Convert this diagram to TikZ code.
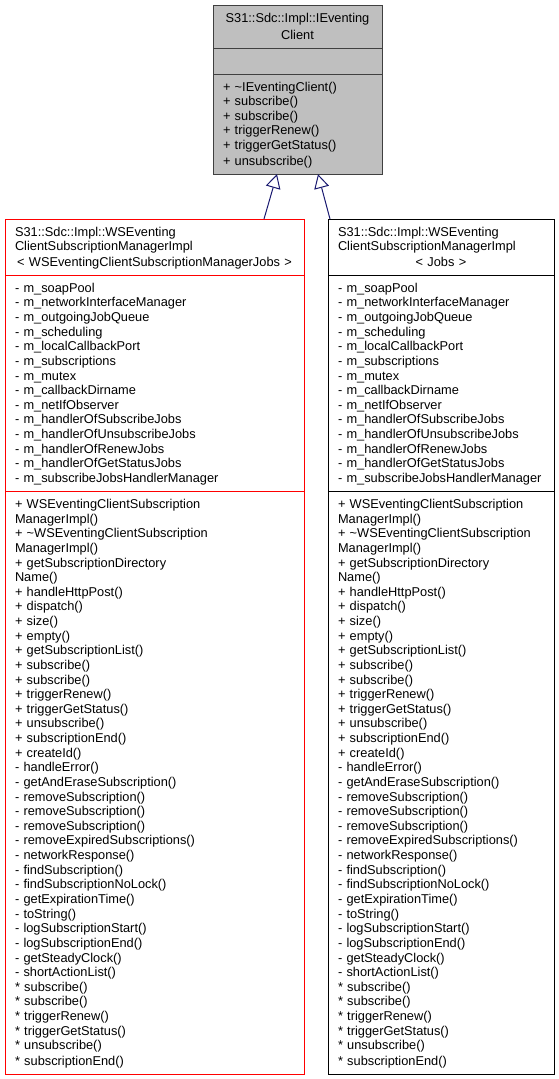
\documentclass[tikz,border=0pt]{standalone}
\usepackage{fontspec}
\setmainfont{Liberation Sans}
\usetikzlibrary{positioning,arrows.meta}
\definecolor{grey75}{HTML}{BFBFBF}
\definecolor{ifaceedge}{HTML}{404040}
\definecolor{midnightblue}{HTML}{191970}
\newcommand{\umlstrut}{\rule[-4pt]{0pt}{16pt}}
\newcommand{\mgrattrs}{- m\_soapPool\\- m\_networkInterfaceManager\\- m\_outgoingJobQueue\\- m\_scheduling\\- m\_localCallbackPort\\- m\_subscriptions\\- m\_mutex\\- m\_callbackDirname\\- m\_netIfObserver\\- m\_handlerOfSubscribeJobs\\- m\_handlerOfUnsubscribeJobs\\- m\_handlerOfRenewJobs\\- m\_handlerOfGetStatusJobs\\- m\_subscribeJobsHandlerManager}
\newcommand{\mgrops}{+ WSEventingClientSubscription\\ManagerImpl()\\+ \textasciitilde WSEventingClientSubscription\\ManagerImpl()\\+ getSubscriptionDirectory\\Name()\\+ handleHttpPost()\\+ dispatch()\\+ size()\\+ empty()\\+ getSubscriptionList()\\+ subscribe()\\+ subscribe()\\+ triggerRenew()\\+ triggerGetStatus()\\+ unsubscribe()\\+ subscriptionEnd()\\+ createId()\\- handleError()\\- getAndEraseSubscription()\\- removeSubscription()\\- removeSubscription()\\- removeSubscription()\\- removeExpiredSubscriptions()\\- networkResponse()\\- findSubscription()\\- findSubscriptionNoLock()\\- getExpirationTime()\\- toString()\\- logSubscriptionStart()\\- logSubscriptionEnd()\\- getSteadyClock()\\- shortActionList()\\{}* subscribe()\\{}* subscribe()\\{}* triggerRenew()\\{}* triggerGetStatus()\\{}* unsubscribe()\\{}* subscriptionEnd()}
\tikzset{
  compart/.style={draw, line width=1pt, inner xsep=10pt, inner ysep=5pt, outer sep=0pt, align=left,
    font=\fontsize{12.8}{14.63}\selectfont, execute at begin node=\umlstrut, execute at end node=\umlstrut},
  ifacepart/.style={compart, fill=grey75, draw=ifaceedge, text width=149pt},
  jobspart/.style={compart, draw=red, text width=279pt},
  mgrpart/.style={compart, draw=black, text width=206pt},
  inherit/.style={draw=midnightblue, line width=1pt, -{Triangle[length=14pt,width=15pt,fill=white]}}
}
\begin{document}
\begin{tikzpicture}[x=1pt,y=-1pt]
    \useasboundingbox (0,0) rectangle (559,1079);
    \node[ifacepart, align=center, anchor=north] (ifacename) at (297.5,5) {S31::Sdc::Impl::IEventing\\Client};
    \node[ifacepart, below=0pt of ifacename] (ifaceattrs) {};
    \node[ifacepart, below=0pt of ifaceattrs] (ifaceops) {+ \textasciitilde IEventingClient()\\+ subscribe()\\+ subscribe()\\+ triggerRenew()\\+ triggerGetStatus()\\+ unsubscribe()};
    \node[jobspart, anchor=north] (jobsname) at (154.5,219) {S31::Sdc::Impl::WSEventing\\ClientSubscriptionManagerImpl\\\makebox[\linewidth]{< WSEventingClientSubscriptionManagerJobs >}};
    \node[jobspart, below=0pt of jobsname] (jobsattrs) {\mgrattrs};
    \node[jobspart, below=0pt of jobsattrs] (jobsops) {\mgrops};
    \node[mgrpart, anchor=north] (mgrname) at (441,219) {S31::Sdc::Impl::WSEventing\\ClientSubscriptionManagerImpl\\\makebox[\linewidth]{< Jobs >}};
    \node[mgrpart, below=0pt of mgrname] (mgrattrs) {\mgrattrs};
    \node[mgrpart, below=0pt of mgrattrs] (mgrops) {\mgrops};
    \draw[inherit] ([xshift=109.5pt]jobsname.north) -- ([xshift=-20.5pt]ifaceops.south);
    \draw[inherit] ([xshift=-111pt]mgrname.north) -- ([xshift=20.5pt]ifaceops.south);
\end{tikzpicture}
\end{document}
